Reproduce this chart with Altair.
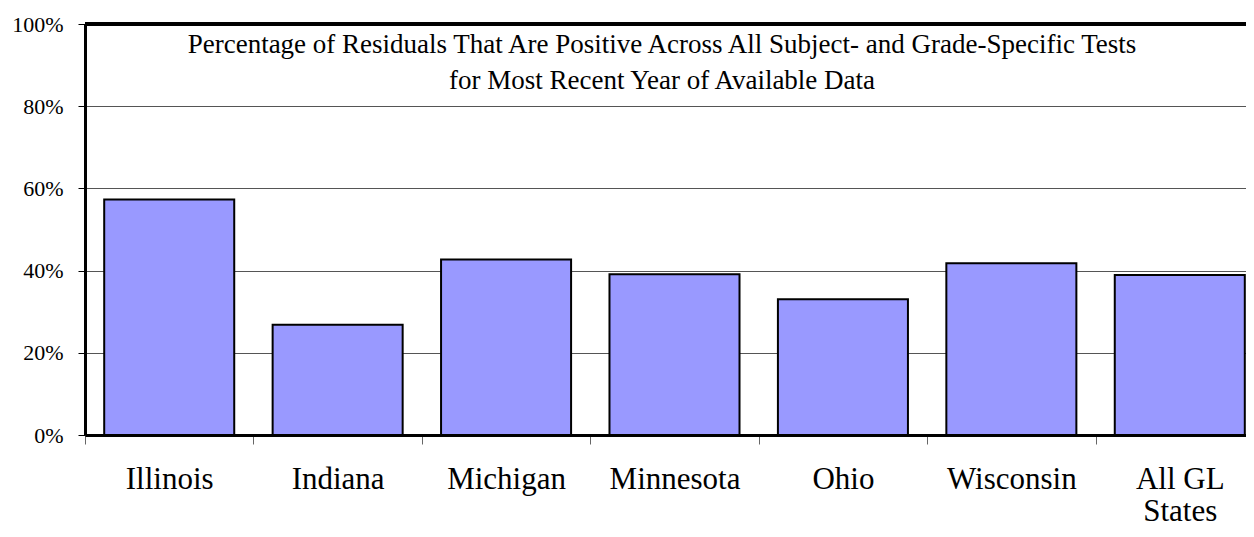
import altair as alt
import pandas as pd

states = ["Illinois", "Indiana", "Michigan", "Minnesota", "Ohio", "Wisconsin", "All GL States"]
values = [0.573, 0.268, 0.427, 0.391, 0.330, 0.418, 0.389]
y_ticks = [0.0, 0.2, 0.4, 0.6, 0.8, 1.0]
title_text = ("Percentage of Residuals That Are Positive Across All Subject- and Grade-Specific Tests\n"
              "for Most Recent Year of Available Data")

df = pd.DataFrame({"state": states, "value": values})
font = "Liberation Serif"

x_enc = alt.X(
    "state:N",
    sort=states,
    scale=alt.Scale(range=[0, 1179], paddingInner=0, paddingOuter=0),
    axis=alt.Axis(
        title=None, labelAngle=0, tickBand="extent",
        labelFont=font, labelFontSize=31, labelColor="black",
        labelPadding=20, labelLineHeight=32,
        labelExpr="datum.label == 'All GL States' ? ['All GL', 'States'] : datum.label",
        tickColor="#666666", tickSize=9, tickWidth=1,
        domainColor="black", domainWidth=3,
    ),
)
y_enc = alt.Y(
    "value:Q",
    scale=alt.Scale(domain=[0, 1], nice=False),
    axis=alt.Axis(
        title=None, values=y_ticks, format=".0%",
        labelFont=font, labelFontSize=22, labelColor="black", labelPadding=15,
        tickColor="black", tickSize=7, tickWidth=1,
        domainColor="black", domainWidth=3,
        grid=True, gridColor="#555555", gridWidth=1,
    ),
)

bars = alt.Chart(df).mark_bar(
    color="#9999FF", stroke="black", strokeWidth=2,
    width=alt.RelativeBandSize(0.772),
).encode(x=x_enc, y=y_enc)

top_rule = alt.Chart(df).mark_rule(
    color="black", strokeWidth=3
).encode(y=alt.datum(1.0))

title = alt.Chart(pd.DataFrame({"t": [title_text]})).mark_text(
    font=font, fontSize=27, color="black", align="center", baseline="alphabetic",
    lineBreak="\n", lineHeight=36,
).encode(text="t:N", x=alt.value(577), y=alt.value(29))

chart = alt.layer(bars, top_rule, title).properties(
    width=1161, height=411,
    autosize=alt.AutoSizeParams(type="none"),
    padding={"left": 77, "top": 16, "right": 0, "bottom": 94},
).configure_view(stroke=None)

chart.save("out.html", embed_options={"renderer": "svg", "actions": False})
